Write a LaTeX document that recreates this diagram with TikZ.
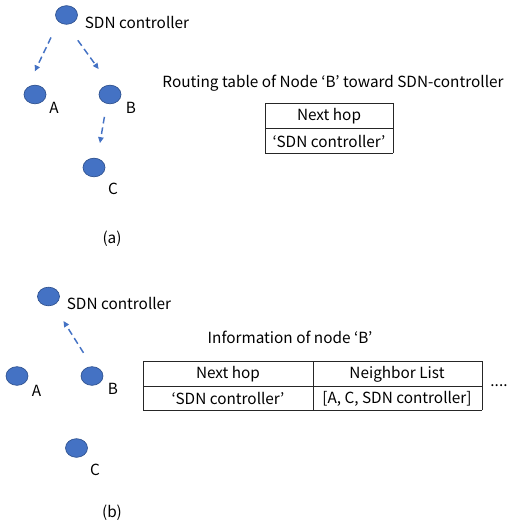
\documentclass[tikz,border=0pt]{standalone}
\usepackage{fontspec}
\setmainfont{Noto Sans CJK KR}
\usepackage{xcolor}
\usetikzlibrary{arrows.meta,shapes.geometric,positioning}
\pgfdeclarelayer{edgelayer}
\pgfdeclarelayer{nodelayer}
\pgfsetlayers{nodelayer,main,edgelayer}
\definecolor{dotblue}{HTML}{4472C4}
\definecolor{dotedge}{HTML}{2F528F}
\tikzset{
	dot/.style={ellipse, fill=dotblue, draw=dotedge, line width=0.5pt, minimum width=16.5pt, minimum height=14pt, inner sep=0pt},
	txt/.style={inner sep=0pt, font=\fontsize{11.5}{13}\selectfont},
	link/.style={dotblue, line width=1.1pt, dash pattern=on 5pt off 3pt, -{Triangle[length=4.5pt,width=4pt]}},
	cell/.style={line width=0.7pt, color=black!85}
}

\begin{document}
\begin{tikzpicture}[x=0.75pt, y=-0.75pt]
	\useasboundingbox (0, 0) rectangle (510, 523);
	\begin{pgfonlayer}{nodelayer}
		% (a)
		\node [dot] (0) at (66.5, 15) {};
		\node [dot] (1) at (35, 94.5) {};
		\node [dot] (2) at (110, 94.5) {};
		\node [dot] (3) at (94, 167.5) {};
		\node [txt] (4) at (137, 23) {SDN controller};
		\node [txt] (5) at (54, 108) {A};
		\node [txt] (6) at (131, 108) {B};
		\node [txt] (7) at (113, 188.5) {C};
		\node [txt] (8) at (112, 239) {(a)};
		\node [txt] (9) at (333, 83) {Routing table of Node ‘B’ toward SDN-controller};
		\node [] (10) at (265, 103) {};
		\node [] (11) at (393, 103) {};
		\node [] (12) at (393, 153) {};
		\node [] (13) at (265, 153) {};
		\node [] (14) at (265, 128) {};
		\node [] (15) at (393, 128) {};
		\node [txt] (16) at (329, 116.5) {Next hop};
		\node [txt] (17) at (329, 141) {‘SDN controller’};
		% (b)
		\node [dot] (18) at (48.5, 296.5) {};
		\node [dot] (19) at (17, 376) {};
		\node [dot] (20) at (92, 376) {};
		\node [dot] (21) at (76.5, 448) {};
		\node [txt] (22) at (119, 303) {SDN controller};
		\node [txt] (23) at (36.5, 390.5) {A};
		\node [txt] (24) at (113, 388.5) {B};
		\node [txt] (25) at (95, 470) {C};
		\node [txt] (26) at (112, 513) {(b)};
		\node [txt] (27) at (290, 337) {Information of node ‘B’};
		\node [] (28) at (143, 361) {};
		\node [] (29) at (482, 361) {};
		\node [] (30) at (482, 410) {};
		\node [] (31) at (143, 410) {};
		\node [] (32) at (143, 386) {};
		\node [] (33) at (482, 386) {};
		\node [] (34) at (313, 361) {};
		\node [] (35) at (313, 410) {};
		\node [txt] (36) at (228, 374.5) {Next hop};
		\node [txt] (37) at (228, 398.5) {‘SDN controller’};
		\node [txt] (38) at (397, 374.5) {Neighbor List};
		\node [txt] (39) at (397, 398.5) {[A, C, SDN controller]};
		\node [txt] (40) at (499, 386) {....};
	\end{pgfonlayer}
	\begin{pgfonlayer}{edgelayer}
		\draw [link, shorten <=13pt, shorten >=13.5pt] (0.south west) to (1.north west);
		\draw [link, shorten <=14.5pt, shorten >=14.5pt] (0.south) to (2.north);
		\draw [link, shorten <=10pt, shorten >=11.5pt] (2.-110) to (3.70);
		\draw [link, shorten <=12pt, shorten >=14pt] (20.north) to (18.-60);
		\draw [cell] (10.center) to (11.center);
		\draw [cell] (11.center) to (12.center);
		\draw [cell] (12.center) to (13.center);
		\draw [cell] (13.center) to (10.center);
		\draw [cell] (14.center) to (15.center);
		\draw [cell] (28.center) to (29.center);
		\draw [cell] (29.center) to (30.center);
		\draw [cell] (30.center) to (31.center);
		\draw [cell] (31.center) to (28.center);
		\draw [cell] (32.center) to (33.center);
		\draw [cell] (34.center) to (35.center);
	\end{pgfonlayer}
\end{tikzpicture}
\end{document}
